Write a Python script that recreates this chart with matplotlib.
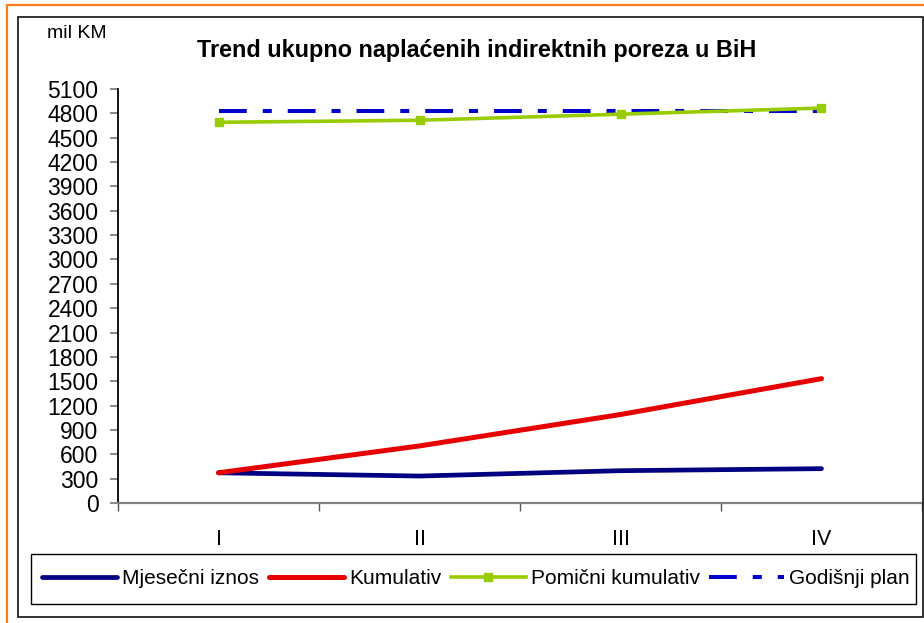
import matplotlib
matplotlib.use("Agg")
import matplotlib.pyplot as plt
from matplotlib.patches import Rectangle
import numpy as np

plt.rcParams['font.family'] = ['Liberation Sans', 'DejaVu Sans']
plt.rcParams['lines.scale_dashes'] = False

categories = ["I", "II", "III", "IV"]
mjesecni = [372, 332, 398, 423]
kumulativ = [372, 703, 1090, 1532]
pomicni = [4690, 4715, 4790, 4865]
plan = [4830, 4830, 4830, 4830]
yticks = list(range(0, 5101, 300))

W, H = 924, 623
fig = plt.figure(figsize=(W / 100, H / 100), dpi=100)

def fx(px):
    return px / W

def fy(py):
    return 1 - py / H

# outer orange border and inner black frame
fig.patches.append(Rectangle((fx(7.5), fy(700)), fx(1000), fy(5.5) - fy(700), transform=fig.transFigure,
                             fill=False, edgecolor='#FF7A1A', linewidth=1.6, zorder=0))
fig.patches.append(Rectangle((fx(18), fy(616.5)), fx(923) - fx(18), fy(17) - fy(616.5), transform=fig.transFigure,
                             fill=False, edgecolor='#222222', linewidth=1.3, zorder=0))
# legend box
fig.patches.append(Rectangle((fx(31), fy(604)), fx(916) - fx(31), fy(554) - fy(604), transform=fig.transFigure,
                             fill=False, edgecolor='black', linewidth=1.0, zorder=0))

ax = fig.add_axes([fx(118), fy(503), fx(922) - fx(118), fy(89) - fy(503)])
x = np.arange(len(categories))

ax.plot(x, mjesecni, color='#000080', linewidth=3.4, solid_capstyle='round', label='Mjesečni iznos', zorder=3)
ax.plot(x, kumulativ, color='#E60000', linewidth=3.6, solid_capstyle='round', label='Kumulativ', zorder=4)
ax.plot(x, pomicni, color='#99CC00', linewidth=2.6, marker='s', markersize=5.5, label='Pomični kumulativ', zorder=3)
lp, = ax.plot(x, plan, color='#0000CC', linewidth=2.9, label='Godišnji plan', zorder=2)
lp.set_dashes([20, 11.5, 6.5, 11.5])
lp.set_solid_capstyle('butt')
lp.set_dash_capstyle('butt')

ax.set_xlim(-0.5, 3.5)
ax.set_ylim(0, 5100)
ax.set_yticks(yticks)
ax.set_yticklabels([str(v) for v in yticks], fontsize=16.5)
ax.tick_params(axis='y', direction='out', length=6, width=1.3, color='#808080', pad=8)

ax.set_xticks(np.arange(-0.5, 4.0, 1.0))
ax.set_xticklabels([])
ax.set_xticks(x, minor=True)
ax.set_xticklabels(categories, minor=True, fontsize=15.5)
ax.tick_params(axis='x', which='major', direction='out', length=6, width=1.0, color='#555555')
ax.tick_params(axis='x', which='minor', length=0, pad=19)

for s in ['top', 'right']:
    ax.spines[s].set_visible(False)
ax.spines['left'].set_color('black')
ax.spines['left'].set_linewidth(1.3)
ax.spines['bottom'].set_color('#808080')
ax.spines['bottom'].set_linewidth(1.6)

fig.text(fx(477), fy(50), 'Trend ukupno naplaćenih indirektnih poreza u BiH', fontsize=16.8,
         fontweight='bold', ha='center', va='center')
fig.text(fx(47), fy(33), 'mil KM', fontsize=14, ha='left', va='center')

handles, labels = ax.get_legend_handles_labels()
leg = fig.legend(handles, labels, loc='center', bbox_to_anchor=(fx(476), fy(579)), ncol=4,
                 fontsize=15, frameon=False, handlelength=3.6,
                 handletextpad=0.25, columnspacing=0.45, borderpad=0.0, borderaxespad=0)

fig.savefig('out.png', dpi=100)
